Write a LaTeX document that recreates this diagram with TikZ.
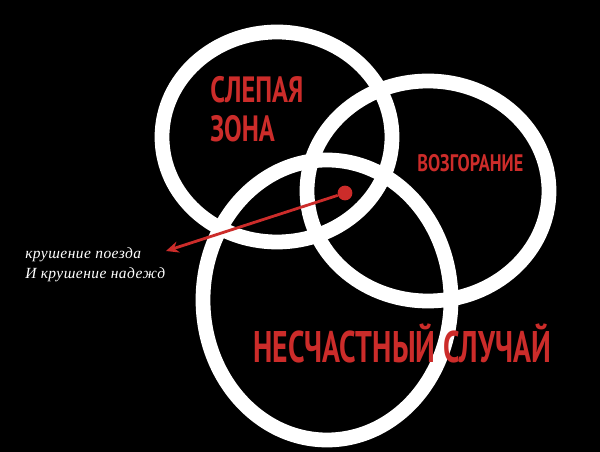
\documentclass[tikz,border=0pt]{standalone}
\usepackage{fontspec}
\usepackage{tikz}
\usetikzlibrary{arrows.meta}
\usetikzlibrary{positioning}
\setmainfont{Liberation Serif}
\newfontfamily\zonefont{PT Sans}
\newfontfamily\notefont[LetterSpace=3]{Liberation Serif}
\definecolor{zonered}{RGB}{204,44,42}
\tikzset{
    ring/.style={draw=white, line width=10.5pt},
    zonelabel/.style={text=zonered, inner sep=0pt, anchor=base west},
    note/.style={text=white, inner sep=0pt, anchor=base west, font=\notefont\itshape\fontsize{11}{13}\selectfont},
    pointer/.style={draw=zonered, line width=2pt, -{Stealth[length=9pt, width=8pt]}},
    hitdot/.style={circle, fill=zonered, inner sep=0pt, minimum size=10.5pt},
}
\begin{document}
\begin{tikzpicture}[x=0.025cm, y=-0.025cm]
	\fill[black] (0,0) rectangle (600,452);
	\useasboundingbox (0,0) rectangle (600,452);
	\draw[ring] (277,137) ellipse [x radius=115, y radius=105];
	\draw[ring] (428,191) ellipse [x radius=121, y radius=110];
	\draw[ring] (327,300) ellipse [x radius=124, y radius=140];
	\node[zonelabel, font=\zonefont\bfseries\addfontfeatures{FakeStretch=0.72}\fontsize{26}{28}\selectfont] (blind) at (210,103) {СЛЕПАЯ};
	\node[zonelabel, font=\zonefont\bfseries\addfontfeatures{FakeStretch=0.72}\fontsize{26}{28}\selectfont] (zone) at (210,142) {ЗОНА};
	\node[zonelabel, font=\zonefont\bfseries\addfontfeatures{FakeStretch=0.76}\fontsize{17}{19}\selectfont] (fire) at (417,172) {ВОЗГОРАНИЕ};
	\node[zonelabel, font=\zonefont\bfseries\addfontfeatures{FakeStretch=0.67}\fontsize{31.5}{33}\selectfont] (accident) at (253,363) {НЕСЧАСТНЫЙ СЛУЧАЙ};
	\node[note] (crash) at (25,259) {крушение поезда};
	\node[note] (hopes) at (25,279) {И крушение надежд};
	\node[hitdot] (hit) at (345,193) {};
	\coordinate (tip) at (166,251);
	\draw[pointer] (hit) -- (tip);
\end{tikzpicture}
\end{document}
